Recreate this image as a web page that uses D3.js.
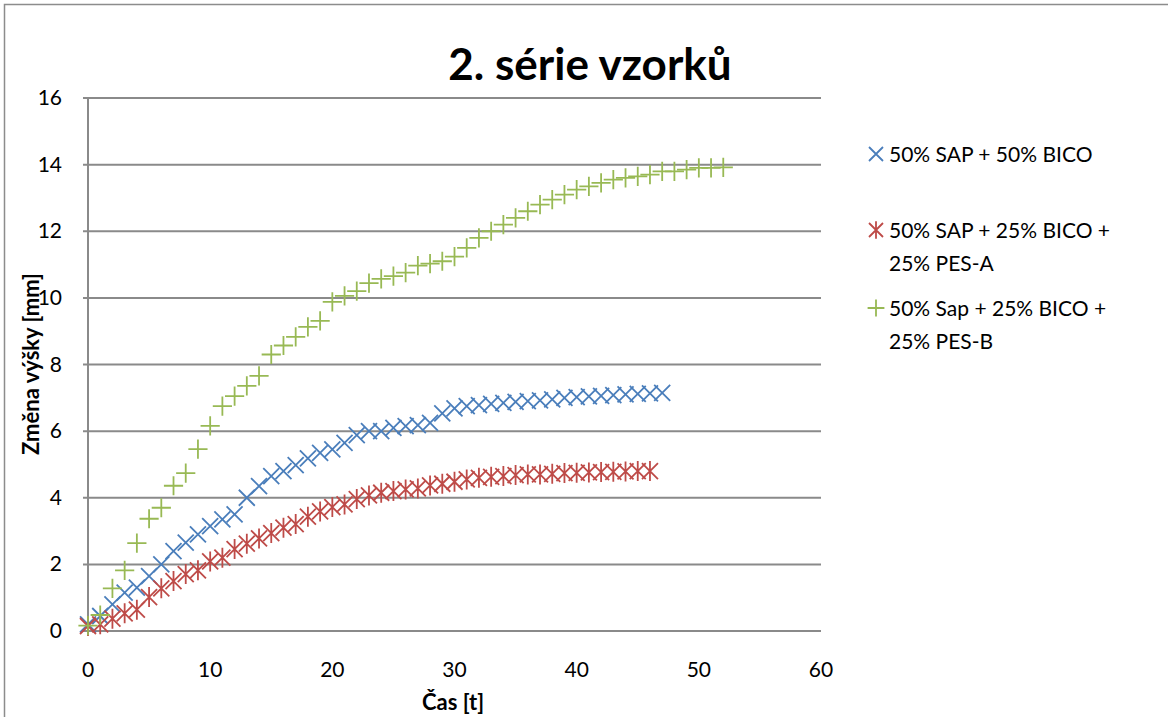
<!DOCTYPE html>
<html>
<head>
<meta charset="utf-8">
<script src="https://cdn.jsdelivr.net/npm/d3@7"></script>
<style>
	body { margin: 0; background: #fff; }
	svg text { font-family: Lato, "Open Sans", sans-serif; fill: #000; }
</style>
</head>
<body>
<div id="chart"></div>
<script>
// values, one point per t = 0, 1, 2, ...
const series_names = ["50% SAP + 50% BICO", "50% SAP + 25% BICO + 25% PES-A", "50% Sap + 25% BICO + 25% PES-B"];
const legend_lines = [["50% SAP + 50% BICO"], ["50% SAP + 25% BICO +", "25% PES-A"], ["50% Sap + 25% BICO +", "25% PES-B"]];

const bico_50 = [0.2, 0.45, 0.8, 1.15, 1.3, 1.65, 2.0, 2.4, 2.65, 2.9, 3.15, 3.35, 3.5, 4.0, 4.35, 4.65,
	4.8, 4.98, 5.18, 5.35, 5.45, 5.65, 5.88, 6.0, 6.0, 6.1, 6.15, 6.18, 6.25, 6.53, 6.68, 6.75,
	6.78, 6.82, 6.85, 6.88, 6.9, 6.92, 6.95, 7.0, 7.02, 7.04, 7.06, 7.08, 7.1, 7.12, 7.13, 7.15];

const pes_a = [0.15, 0.2, 0.37, 0.53, 0.64, 1.02, 1.28, 1.5, 1.71, 1.82, 2.09, 2.2, 2.46, 2.62, 2.78, 2.94,
	3.1, 3.21, 3.43, 3.59, 3.72, 3.8, 3.96, 4.07, 4.15, 4.2, 4.25, 4.28, 4.37, 4.42, 4.48, 4.55,
	4.6, 4.63, 4.65, 4.68, 4.7, 4.7, 4.72, 4.74, 4.75, 4.76, 4.77, 4.78, 4.79, 4.8, 4.8];

const pes_b = [0.16, 0.48, 1.28, 1.82, 2.64, 3.37, 3.7, 4.36, 4.74, 5.46, 6.16, 6.75, 7.05, 7.36, 7.66, 8.3,
	8.57, 8.83, 9.13, 9.31, 9.88, 10.06, 10.2, 10.44, 10.57, 10.65, 10.76, 10.97, 11.03, 11.1, 11.24, 11.5,
	11.8, 12.0, 12.2, 12.4, 12.6, 12.8, 12.95, 13.1, 13.25, 13.35, 13.45, 13.55, 13.6, 13.65, 13.7, 13.8,
	13.8, 13.85, 13.9, 13.9, 13.92];

const x_ticks = [0, 10, 20, 30, 40, 50, 60];
const y_ticks = [0, 2, 4, 6, 8, 10, 12, 14, 16];

const colors = ["#4a7ebb", "#be4b48", "#98b954"];
const shapes = ["x", "star", "plus"];

const W = 1168, H = 717;
const margin = {top: 98, left: 88, right: 347, bottom: 86};

const svg = d3.select("#chart").append("svg")
	.attr("width", W)
	.attr("height", H);

// outer chart frame (runs off the right/bottom of the window)
svg.append("rect")
	.attr("x", 4.5).attr("y", 4.5)
	.attr("width", 1200).attr("height", 800)
	.attr("fill", "none")
	.attr("stroke", "#8c8c8c")
	.attr("stroke-width", 1.5);

const x_scale = d3.scaleLinear().domain([0, 60]).range([margin.left, W - margin.right]);
const y_scale = d3.scaleLinear().domain([0, 16]).range([H - margin.bottom, margin.top]);

// gridlines
svg.append("g")
	.selectAll("line")
	.data(y_ticks)
	.enter()
	.append("line")
	.attr("x1", margin.left - 5)
	.attr("x2", x_scale(60))
	.attr("y1", d => y_scale(d))
	.attr("y2", d => y_scale(d))
	.attr("stroke", "#8a8a8a")
	.attr("stroke-width", 2);

// y axis line
svg.append("line")
	.attr("x1", margin.left).attr("x2", margin.left)
	.attr("y1", y_scale(16)).attr("y2", y_scale(0))
	.attr("stroke", "#8a8a8a")
	.attr("stroke-width", 2);

// tick labels
svg.append("g")
	.selectAll("text")
	.data(y_ticks)
	.enter()
	.append("text")
	.attr("x", 62)
	.attr("y", d => y_scale(d) + 7)
	.attr("text-anchor", "end")
	.style("font-size", "21px")
	.text(d => d);

svg.append("g")
	.selectAll("text")
	.data(x_ticks)
	.enter()
	.append("text")
	.attr("x", d => x_scale(d))
	.attr("y", 677)
	.attr("text-anchor", "middle")
	.style("font-size", "21px")
	.text(d => d);

// titles
svg.append("text")
	.attr("x", 590).attr("y", 80)
	.attr("text-anchor", "middle")
	.style("font-size", "44px")
	.style("font-weight", "bold")
	.text("2. série vzorků");

svg.append("text")
	.attr("x", 453).attr("y", 710)
	.attr("text-anchor", "middle")
	.style("font-size", "22px")
	.style("font-weight", "bold")
	.text("Čas [t]");

svg.append("text")
	.attr("transform", "translate(39,364)rotate(-90)")
	.attr("text-anchor", "middle")
	.style("font-size", "22px")
	.style("font-weight", "bold")
	.text("Změna výšky [mm]");

// marker paths
function marker_path(shape, s) {
	if (shape === "x") {
		return `M${-s},${-s}L${s},${s}M${-s},${s}L${s},${-s}`;
	}
	if (shape === "star") {
		return `M${-s},${-s}L${s},${s}M${-s},${s}L${s},${-s}M0,${-s * 1.25}L0,${s * 1.25}`;
	}
	return `M${-s * 1.2},0L${s * 1.2},0M0,${-s * 1.2}L0,${s * 1.2}`;
}

const all_series = [bico_50, pes_a, pes_b];

all_series.forEach((values, i) => {
	svg.append("g")
		.selectAll("path")
		.data(values)
		.enter()
		.append("path")
		.attr("transform", (d, t) => `translate(${x_scale(t)},${y_scale(d)})`)
		.attr("d", marker_path(shapes[i], 8))
		.attr("fill", "none")
		.attr("stroke", colors[i])
		.attr("stroke-width", 1.8);
});

// legend
const legend_y = [154, 230, 308];
legend_lines.forEach((lines, i) => {
	svg.append("path")
		.attr("transform", `translate(876,${legend_y[i]})`)
		.attr("d", marker_path(shapes[i], 7))
		.attr("fill", "none")
		.attr("stroke", colors[i])
		.attr("stroke-width", 1.8);

	lines.forEach((line, j) => {
		svg.append("text")
			.attr("x", 889)
			.attr("y", legend_y[i] + 8 + j * 33)
			.style("font-size", "21px")
			.text(line);
	});
});
</script>
</body>
</html>
